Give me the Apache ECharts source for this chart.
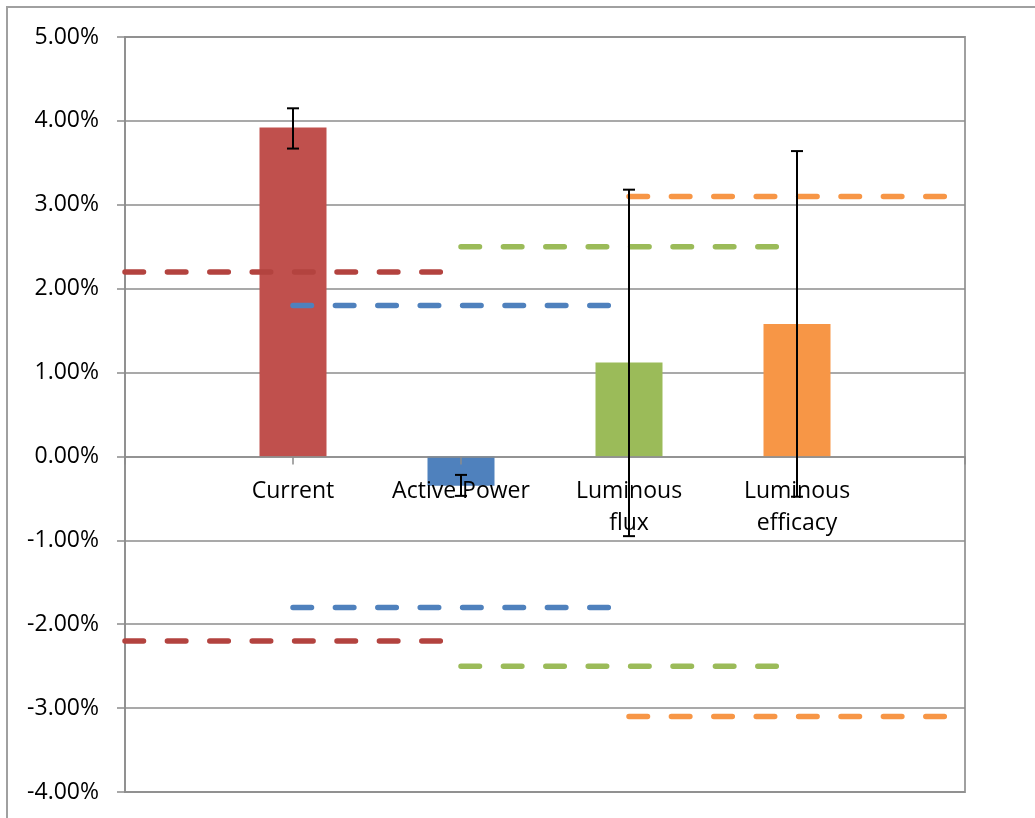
<!DOCTYPE html>
<html>
<head>
<meta charset="utf-8">
<script src="https://cdn.jsdelivr.net/npm/echarts@6/dist/echarts.min.js"></script>
<style>
html,body{margin:0;padding:0;background:#fff;}
#c{width:1035px;height:818px;}
</style>
</head>
<body>
<div id="c"></div>
<script>
// ---- data ----
const categories = ['', 'Current', 'Active Power', 'Luminous\nflux', 'Luminous\nefficacy', ''];
const barValues = [3.92, -0.35, 1.12, 1.58];
const errLow = [3.67, -0.47, -0.95, -0.48];
const errHigh = [4.15, -0.22, 3.18, 3.64];
const limits = [2.2, 1.8, 2.5, 3.1];
const colors = ['#C0504D', '#4F81BD', '#9BBB59', '#F79646'];
const limitColors = ['#B3433F', '#4F81BD', '#9BBB59', '#F79646'];
const yTicks = { min: -4, max: 5, interval: 1 };

const FONT = '"Open Sans", "Noto Sans", sans-serif';
const chart = echarts.init(document.getElementById('c'), null, { renderer: 'canvas' });

const barData = categories.map((c, i) => {
  if (i >= 1 && i <= barValues.length) {
    return { value: barValues[i - 1], itemStyle: { color: colors[i - 1] } };
  }
  return '-';
});

const errData = barValues.map((v, i) => [i + 1, errLow[i], errHigh[i]]);
const labelData = categories.map((c, i) => [i, 0]);

const lineSeries = [];
limits.forEach((lim, i) => {
  [lim, -lim].forEach(v => {
    lineSeries.push({
      type: 'line',
      xAxisIndex: 0,
      yAxisIndex: 0,
      data: [[i, v], [i + 2, v]],
      symbol: 'none',
      silent: true,
      z: 4,
      lineStyle: { color: limitColors[i], width: 5.5, type: [18.5, 23.9], cap: 'round' }
    });
  });
});

chart.setOption({
  animation: false,
  backgroundColor: '#fff',
  graphic: [{
    type: 'rect',
    shape: { x: 7, y: 7, width: 1200, height: 1000 },
    style: { fill: 'none', stroke: '#a0a0a0', lineWidth: 2 },
    silent: true, z: -10
  }],
  grid: {
    left: 125, top: 37, width: 840, height: 755,
    containLabel: false, outerBoundsMode: 'none',
    show: true, borderColor: '#a0a0a0', borderWidth: 2, backgroundColor: 'transparent'
  },
  xAxis: [{
    type: 'category',
    data: categories,
    boundaryGap: false,
    z: 3,
    axisLine: { onZero: true, lineStyle: { color: '#8c8c8c', width: 1.5 } },
    axisTick: { show: true, length: 8, alignWithLabel: true, lineStyle: { color: '#8c8c8c', width: 1.5 } },
    axisLabel: { show: false },
    splitLine: { show: false }
  }],
  yAxis: [{
    type: 'value',
    min: yTicks.min, max: yTicks.max, interval: yTicks.interval,
    axisLine: { show: true, onZero: false, lineStyle: { color: '#8c8c8c', width: 1.5 } },
    axisTick: { show: true, length: 8, lineStyle: { color: '#8c8c8c', width: 1.5 } },
    axisLabel: {
      margin: 26, color: '#000', fontFamily: FONT, fontSize: 23,
      formatter: v => v.toFixed(2) + '%'
    },
    splitLine: { show: true, lineStyle: { color: '#8c8c8c', width: 1.5 } }
  }],
  series: [{
    type: 'bar',
    xAxisIndex: 0,
    data: barData,
    barWidth: 67,
    z: 2
  }].concat(lineSeries).concat([{
    type: 'custom',
    xAxisIndex: 0,
    yAxisIndex: 0,
    z: 5,
    silent: true,
    data: labelData,
    renderItem: function (params, api) {
      const p = api.coord([api.value(0), api.value(1)]);
      return {
        type: 'text',
        style: {
          text: categories[params.dataIndex],
          x: p[0], y: p[1] + 19,
          textAlign: 'center', textVerticalAlign: 'top',
          fill: '#000', fontFamily: FONT, fontSize: 23, lineHeight: 32
        }
      };
    }
  }, {
    type: 'custom',
    xAxisIndex: 0,
    yAxisIndex: 0,
    z: 6,
    data: errData,
    encode: { x: 0, y: [1, 2] },
    renderItem: function (params, api) {
      const x = api.value(0);
      const lo = api.coord([x, api.value(1)]);
      const hi = api.coord([x, api.value(2)]);
      const hw = 6;
      const st = { stroke: '#000', lineWidth: 2 };
      return {
        type: 'group',
        children: [
          { type: 'line', shape: { x1: lo[0], y1: lo[1], x2: hi[0], y2: hi[1] }, style: st },
          { type: 'line', shape: { x1: hi[0] - hw, y1: hi[1], x2: hi[0] + hw, y2: hi[1] }, style: st },
          { type: 'line', shape: { x1: lo[0] - hw, y1: lo[1], x2: lo[0] + hw, y2: lo[1] }, style: st }
        ]
      };
    }
  }])
});
</script>
</body>
</html>
